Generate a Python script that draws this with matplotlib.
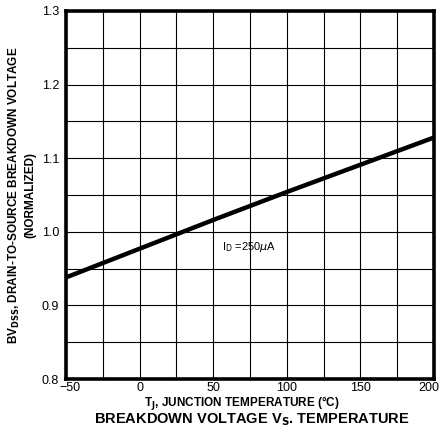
import matplotlib
matplotlib.use("Agg")
import matplotlib.pyplot as plt
from matplotlib.ticker import MultipleLocator
from matplotlib.transforms import ScaledTranslation

plt.rcParams['font.family'] = ['Liberation Sans', 'DejaVu Sans']

temp_c = [-50, 0, 50, 100, 150, 200]
bvdss_norm = [0.938, 0.977, 1.016, 1.054, 1.091, 1.128]

x_ticks = [-50, 0, 50, 100, 150, 200]
x_tick_labels = ['\u221250', '0', '50', '100', '150', '200']
y_ticks = [0.8, 0.9, 1.0, 1.1, 1.2, 1.3]
y_tick_labels = ['0.8', '0.9', '1.0', '1.1', '1.2', '1.3']

fig = plt.figure(figsize=(4.41, 4.36), dpi=100)
ax = fig.add_axes([0.1497, 0.1307, 0.8343, 0.8443])

ax.plot(temp_c, bvdss_norm, color='black', lw=3.2, solid_capstyle='butt', zorder=3)

ax.set_xlim(-50, 200)
ax.set_ylim(0.8, 1.3)
ax.set_xticks(x_ticks)
ax.set_xticklabels(x_tick_labels)
ax.set_yticks(y_ticks)
ax.set_yticklabels(y_tick_labels)
ax.xaxis.set_minor_locator(MultipleLocator(25))
ax.yaxis.set_minor_locator(MultipleLocator(0.05))
ax.grid(which='both', color='black', lw=0.8)
ax.tick_params(which='both', length=0, labelsize=9)
ax.tick_params(axis='x', pad=2)
ax.tick_params(axis='y', pad=5)
for s in ax.spines.values():
    s.set_linewidth(2.6)

xl = ax.get_xticklabels()
xl[0].set_transform(xl[0].get_transform() + ScaledTranslation(4/100, 0, fig.dpi_scale_trans))
xl[-1].set_transform(xl[-1].get_transform() + ScaledTranslation(-5/100, 0, fig.dpi_scale_trans))

ax.text(56, 0.979, r'I$_\mathrm{D}$ =250$\mu$A', fontsize=8, ha='left', va='center')

ax.set_ylabel('BV$_\\mathbf{DSS}$, DRAIN-TO-SOURCE BREAKDOWN VOLTAGE\n(NORMALIZED)',
              fontsize=8.5, fontweight='bold', labelpad=4, linespacing=1.25)
fig.text(0.548, 0.074, 'T$_\\mathbf{J}$, JUNCTION TEMPERATURE (\u00b0C)', fontsize=8.5,
         fontweight='bold', ha='center', va='center')
fig.text(0.57, 0.038, 'BREAKDOWN VOLTAGE V$_\\mathbf{S}$. TEMPERATURE', fontsize=10.5,
         fontweight='bold', ha='center', va='center')

fig.savefig('out.png', dpi=100)
